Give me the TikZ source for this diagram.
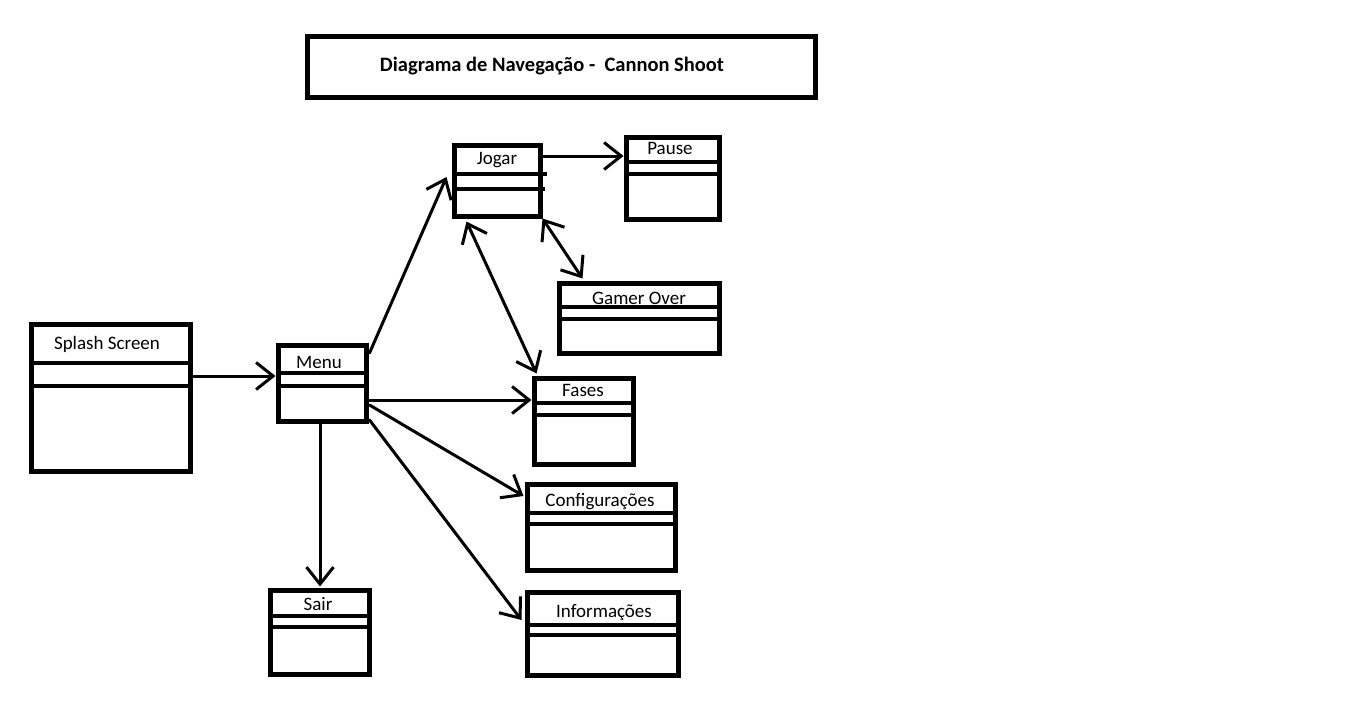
\documentclass[tikz,border=0pt]{standalone}
\usepackage{fontspec}
\setmainfont{Carlito}
\usetikzlibrary{arrows.meta,calc}
\tikzset{
  cls/.style={draw, rectangle, line width=5pt, inner sep=0pt, outer sep=0pt},
  divider/.style={line width=3.5pt},
  lbl/.style={inner sep=0pt, font=\fontsize{19}{21}\selectfont},
  conn/.style={line width=3pt, line cap=round, -{Straight Barb[length=17pt,width=27pt,line width=3pt]}},
  dconn/.style={line width=3pt, line cap=round, {Straight Barb[length=17pt,width=27pt,line width=3pt]}-{Straight Barb[length=17pt,width=27pt,line width=3pt]}},
}
% #1 name, #2 x1, #3 y1, #4 x2, #5 y2, #6 divider1, #7 divider2
\newcommand\umlbox[7]{%
  \node[cls, minimum width={#4-#2}, minimum height={#5-#3}] (#1) at ({(#2+#4)/2},{(#3+#5)/2}) {};
  \draw[divider] (#2,#6) -- (#4,#6);
  \draw[divider] (#2,#7) -- (#4,#7);
}
\begin{document}
\begin{tikzpicture}[x=1pt,y=-1pt]
\useasboundingbox (0,0) rectangle (1360,713);
\fill[white] (0,0) rectangle (1360,713);

% title
\node[cls, minimum width=508, minimum height=61] (title) at (561.5,67) {};
\node[lbl, font=\fontsize{20.5}{23}\selectfont\bfseries] (titletext) at (552,66.5) {Diagrama de Navegação -\ \ Cannon Shoot};

% boxes
\umlbox{splash}{31.5}{324.5}{190.5}{471.5}{363}{386}
\umlbox{menu}{278.5}{345.5}{366.5}{421.5}{373}{386}
\umlbox{jogar}{454.5}{145.5}{540.5}{216.5}{174}{189}
\draw[divider] (540,174) -- (547,174);
\draw[divider] (540,189) -- (545,189);
\umlbox{pause}{626.5}{137.5}{719.5}{219.5}{162}{174}
\umlbox{gamer}{559.5}{283.5}{719.5}{353.5}{307}{319}
\umlbox{fases}{534.5}{378.5}{633.5}{464.5}{403}{415}
\umlbox{config}{527.5}{484.5}{675.5}{570.5}{513}{524}
\umlbox{info}{527.5}{592.5}{678.5}{675.5}{625}{635}
\umlbox{sair}{270.5}{590.5}{369.5}{674.5}{616}{627}

% labels
\node[lbl] (splash-t) at (107,344.5) {Splash Screen};
\node[lbl] (menu-t) at (319,362.5) {Menu};
\node[lbl] (jogar-t) at (497,160.5) {Jogar};
\node[lbl] (pause-t) at (670,148.5) {Pause};
\node[lbl] (gamer-t) at (639,298.5) {Gamer Over};
\node[lbl] (fases-t) at (583,390.5) {Fases};
\node[lbl] (config-t) at (600,501.5) {Configurações};
\node[lbl] (info-t) at (604,612.5) {Informações};
\node[lbl] (sair-t) at (318,604.5) {Sair};

% connectors
\draw[conn] ($(splash.east|-0,376)+(3,0)$) -- ($(menu.west|-0,376)+(-3,0)$);
\draw[conn] ($(menu.east|-0,353)+(3,0)$) -- ($(jogar.west|-0,177)+(-8,0)$);
\draw[conn] ($(jogar.east|-0,156)+(3,0)$) -- ($(pause.west|-0,156)+(-3,0)$);
\draw[dconn] ($(jogar.south east)+(2,2)$) -- ($(gamer.north west)+(23,-5)$);
\draw[dconn] ($(jogar.south west)+(12,5)$) -- ($(fases.north west)+(2,-5)$);
\draw[conn] ($(menu.east|-0,400)+(3,0)$) -- ($(fases.west|-0,400)+(-3,0)$);
\draw[conn] ($(menu.east|-0,405)+(3,0)$) -- ($(config.west|-0,496)+(-4,0)$);
\draw[conn] ($(menu.east|-0,420)+(3,0)$) -- ($(info.west|-0,620)+(-6,0)$);
\draw[conn] ($(menu.south)+(-2.5,3)$) -- ($(sair.north)+(0,-4)$);
\end{tikzpicture}
\end{document}
